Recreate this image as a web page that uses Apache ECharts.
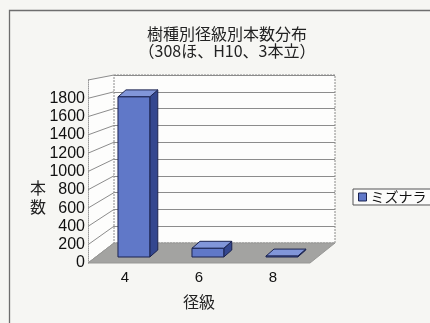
<!DOCTYPE html>
<html><head><meta charset="utf-8">
<script src="https://cdn.jsdelivr.net/npm/echarts@6/dist/echarts.min.js"></script>
<style>html,body{margin:0;padding:0;background:#f6f6f3;}#c{width:430px;height:323px;}</style>
</head><body><div id="c"></div>
<script>
// ---- data ----
const titleText = '樹種別径級別本数分布';
const subTitleText = '（308ほ、H10、3本立）';
const categories = ['4', '6', '8'];
const seriesName = 'ミズナラ';
const counts = [1750, 95, 10];
const yMin = 0;
const yMax = 2000;
const yStep = 200;
const yAxisName = ['本', '数'];
const xAxisName = '径級';

const FONT = "'Noto Sans CJK JP', sans-serif";
const NUMFONT = "'Liberation Sans Narrow', 'Liberation Sans', sans-serif";

const chart = echarts.init(document.getElementById('c'), null, {renderer: 'canvas'});

const barData = counts.map((v, i) => [i, v]);

chart.setOption({
  animation: false,
  backgroundColor: '#f6f6f3',
  title: {
    text: titleText + '\n' + subTitleText,
    left: 222, top: 20, textAlign: 'center',
    textStyle: {fontFamily: FONT, fontSize: 16, fontWeight: 'normal', color: '#222', lineHeight: 17}
  },
  legend: {
    left: 353, top: 189,
    orient: 'vertical',
    padding: [1, 30, 1, 5],
    borderColor: '#555', borderWidth: 1,
    backgroundColor: '#fbfbfa',
    itemWidth: 8, itemHeight: 8, itemGap: 4,
    textStyle: {fontFamily: FONT, fontSize: 14, color: '#111', padding: [0, 0, 0, -1]},
    data: [{name: seriesName, icon: 'rect', itemStyle: {color: '#6078c8', borderColor: '#1b2350', borderWidth: 1}}]
  },
  grid: [
    {left: 114, top: 75, width: 221, height: 168, show: true, backgroundColor: '#fdfdfc', borderWidth: 0},
    {left: 88, top: 80, width: 222, height: 183}
  ],
  xAxis: [
    {type: 'category', gridIndex: 0, data: categories, show: false},
    {type: 'category', gridIndex: 1, data: categories,
      axisLine: {show: false}, axisTick: {show: false},
      axisLabel: {fontFamily: NUMFONT, fontSize: 15, color: '#111', margin: 7},
      name: xAxisName, nameLocation: 'middle', nameGap: 31,
      nameTextStyle: {fontFamily: FONT, fontSize: 16, color: '#222'}}
  ],
  yAxis: [
    {type: 'value', gridIndex: 0, min: yMin, max: yMax, interval: yStep,
      axisLabel: {show: false}, axisLine: {show: false}, axisTick: {show: false},
      splitLine: {show: true, lineStyle: {color: '#8c8c8c', width: 1}}},
    {type: 'value', gridIndex: 1, min: yMin, max: yMax, interval: yStep,
      axisLabel: {fontFamily: NUMFONT, fontSize: 16, color: '#111', margin: 3,
        formatter: v => (v >= yMax ? '' : String(v))},
      axisLine: {show: true, lineStyle: {color: '#9a9a9a', type: 'dotted'}},
      axisTick: {show: false}, splitLine: {show: false}}
  ],
  series: [{
    type: 'custom', name: seriesName,
    xAxisIndex: 1, yAxisIndex: 1,
    itemStyle: {color: '#6078c8'},
    data: barData,
    z: 5,
    renderItem: function (params, api) {
      const i = api.value(0), v = api.value(1);
      const base = api.coord([i, 0]);
      const top = api.coord([i, v]);
      const band = api.size([1, 0])[0];
      const w = band * 0.43;
      const sx = band * 0.12, sy = -6;
      const dx = 8, dy = -7;
      const L = base[0] + sx - w / 2, R = L + w;
      const T = top[1] + sy, B = base[1] + sy;
      const stroke = '#1b2350';
      return {
        type: 'group',
        children: [
          {type: 'polygon', shape: {points: [[R, T], [R + dx, T + dy], [R + dx, B + dy], [R, B]]},
            style: {fill: '#34478f', stroke: stroke, lineWidth: 1}},
          {type: 'polygon', shape: {points: [[L, T], [R, T], [R + dx, T + dy], [L + dx, T + dy]]},
            style: {fill: '#8196d9', stroke: stroke, lineWidth: 1}},
          {type: 'rect', shape: {x: L, y: T, width: w, height: Math.max(B - T, 0.8)},
            style: {fill: '#6078c8', stroke: stroke, lineWidth: 1}}
        ]
      };
    }
  }]
});

// ---- walls, floor and frame derived from the axes ----
function px(g, x, y) { return chart.convertToPixel({gridIndex: g}, [x, y]); }
const n = categories.length;
const bandF = px(1, 1, 0)[0] - px(1, 0, 0)[0];
const bandB = px(0, 1, 0)[0] - px(0, 0, 0)[0];
const fL = px(1, 0, yMin)[0] - bandF / 2, fR = px(1, n - 1, yMin)[0] + bandF / 2;
const bL = px(0, 0, yMin)[0] - bandB / 2, bR = px(0, n - 1, yMin)[0] + bandB / 2;
const fB = px(1, 0, yMin)[1], bB = px(0, 0, yMin)[1];
const fT = px(1, 0, yMax)[1], bT = px(0, 0, yMax)[1];

const g = [];
// outer frame
g.push({type: 'rect', shape: {x: 9.5, y: 10.5, width: 500, height: 400},
  style: {fill: null, stroke: '#6e6e6e', lineWidth: 1.3}, z: 0});
// side wall fill
g.push({type: 'polygon', shape: {points: [[fL, fB], [bL, bB], [bL, bT], [fL, fT]]},
  style: {fill: '#fdfdfc'}, z: 0});
// side wall grid lines
for (let v = yMin; v <= yMax; v += yStep) {
  const a = px(1, 0, v), b = px(0, 0, v);
  g.push({type: 'line', shape: {x1: fL, y1: a[1], x2: bL, y2: b[1]},
    style: {stroke: '#8c8c8c', lineWidth: 1}, z: 1});
}
// back wall frame
g.push({type: 'rect', shape: {x: bL, y: bT, width: bR - bL, height: bB - bT},
  style: {fill: null, stroke: '#8a8a8a', lineWidth: 1, lineDash: [2, 1]}, z: 1});
// floor
g.push({type: 'polygon', shape: {points: [[fL, fB], [fR, fB], [bR, bB], [bL, bB]]},
  style: {fill: '#a3a3a1', stroke: '#979795', lineWidth: 1}, z: 2});
// y axis name
g.push({type: 'text', x: 38, y: 188, style: {text: yAxisName[0], font: '16px ' + FONT, fill: '#222', textAlign: 'center', textVerticalAlign: 'middle'}, z: 3});
g.push({type: 'text', x: 38, y: 207, style: {text: yAxisName[1], font: '16px ' + FONT, fill: '#222', textAlign: 'center', textVerticalAlign: 'middle'}, z: 3});

chart.setOption({graphic: {elements: g}});
</script>
</body></html>
